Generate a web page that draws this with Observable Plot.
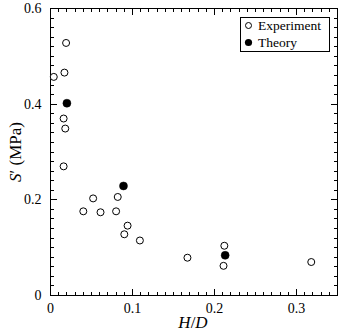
<!DOCTYPE html>
<html><head><meta charset="utf-8">
<script src="https://cdn.jsdelivr.net/npm/d3@7"></script>
<script src="https://cdn.jsdelivr.net/npm/@observablehq/plot@0.6"></script>
<style>body{margin:0;background:#fff} #chart{width:341px;height:336px}</style>
</head><body><div id="chart"></div>
<script>
// Experiment data (H/D, S' in MPa)
const expHD = [0.004, 0.019, 0.017, 0.016, 0.018, 0.016, 0.040, 0.052, 0.061, 0.080, 0.082, 0.090, 0.094, 0.109, 0.167, 0.211, 0.212, 0.318];
const expS  = [0.457, 0.528, 0.466, 0.370, 0.349, 0.270, 0.176, 0.203, 0.174, 0.176, 0.206, 0.128, 0.146, 0.115, 0.079, 0.062, 0.104, 0.070];
// Theory data
const thHD = [0.020, 0.089, 0.213];
const thS  = [0.402, 0.229, 0.084];
// Ticks
const xTicks = [0, 0.1, 0.2, 0.3];
const yTicks = [0, 0.2, 0.4, 0.6];
const xMinor = d3.range(0, 36).map(i => i / 100);
const yMinor = d3.range(0, 31).map(i => i / 50);
const legendLabels = ["Experiment", "Theory"];

const expData = expHD.map((h, i) => ({h, s: expS[i]}));
const thData = thHD.map((h, i) => ({h, s: thS[i]}));

const fmt = d => String(d);
const font = "'Liberation Serif', 'DejaVu Serif', serif";
const tickShape = {draw(ctx, l) { ctx.moveTo(0, 0); ctx.lineTo(0, -l); }};
const inward = (vals, k, len) => {
  const common = {shape: tickShape, anchor: "start", length: len, stroke: "black", strokeWidth: 1};
  if (k === "x") return [
    Plot.vector(vals, {x: d => d, frameAnchor: "bottom", rotate: 0, ...common}),
    Plot.vector(vals, {x: d => d, frameAnchor: "top", rotate: 180, ...common})
  ];
  return [
    Plot.vector(vals, {y: d => d, frameAnchor: "left", rotate: 90, ...common}),
    Plot.vector(vals, {y: d => d, frameAnchor: "right", rotate: -90, ...common})
  ];
};

const plot = Plot.plot({
  width: 341, height: 336,
  marginLeft: 50, marginRight: 4, marginTop: 8, marginBottom: 41,
  style: {fontFamily: font, fontSize: "14px", background: "white", color: "black"},
  x: {domain: [0, 0.35]},
  y: {domain: [0, 0.6]},
  marks: [
    Plot.axisX(xTicks, {anchor: "bottom", tickSize: 0, tickPadding: 8, tickFormat: fmt, label: null, fontSize: 14}),
    Plot.axisY(yTicks, {anchor: "left", tickSize: 0, tickPadding: 9, tickFormat: fmt, label: null, fontSize: 14}),
    ...inward(xMinor, "x", 3.5),
    ...inward(yMinor, "y", 3.5),
    ...inward(xTicks, "x", 6),
    ...inward(yTicks, "y", 6),
    Plot.frame({stroke: "black"}),
    Plot.dot(expData, {x: "h", y: "s", r: 3.5, stroke: "black", fill: "white", strokeWidth: 1}),
    Plot.dot(thData, {x: "h", y: "s", r: 4, fill: "black", stroke: "black", strokeWidth: 0.5})
  ]
});

const svg = d3.select(plot);
svg.selectAll("g[aria-label='vector']").attr("shape-rendering", "crispEdges");

// Y label
const yl = svg.append("text")
  .attr("transform", "translate(21,152) rotate(-90)")
  .attr("text-anchor", "middle")
  .attr("font-family", font).attr("font-size", 17).attr("fill", "black");
yl.append("tspan").attr("font-style", "italic").text("S");
yl.append("tspan").text("′ (MPa)");
// X label
const xl = svg.append("text")
  .attr("x", 193).attr("y", 328)
  .attr("text-anchor", "middle")
  .attr("font-family", font).attr("font-size", 17).attr("fill", "black");
xl.append("tspan").attr("font-style", "italic").text("H");
xl.append("tspan").text("/");
xl.append("tspan").attr("font-style", "italic").text("D");
// Legend
const lg = svg.append("g").attr("font-family", font).attr("font-size", 13.5).attr("text-anchor", "start");
lg.append("rect").attr("x", 240.5).attr("y", 17.5).attr("width", 89).attr("height", 34)
  .attr("fill", "white").attr("stroke", "black").attr("stroke-width", 1);
lg.append("circle").attr("cx", 248.5).attr("cy", 25.5).attr("r", 3).attr("fill", "white").attr("stroke", "black");
lg.append("circle").attr("cx", 248.5).attr("cy", 42.5).attr("r", 3.6).attr("fill", "black");
lg.append("text").attr("x", 258).attr("y", 30).attr("text-anchor", "start").attr("fill", "black").text(legendLabels[0]);
lg.append("text").attr("x", 258).attr("y", 47).attr("text-anchor", "start").attr("fill", "black").text(legendLabels[1]);

document.getElementById("chart").appendChild(plot);
</script>
</body></html>
